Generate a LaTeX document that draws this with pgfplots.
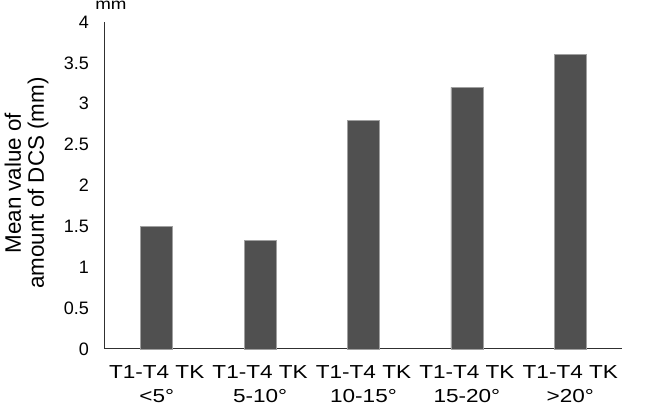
\documentclass[border=0pt]{standalone}
\usepackage{fontspec}
\setmainfont{Liberation Sans}
\newfontfamily\widefont[FakeStretch=1.2]{Liberation Sans}
\usepackage{pgfplots}
\pgfplotsset{compat=1.18}
\definecolor{barFill}{HTML}{505050}
\definecolor{barEdge}{HTML}{A0A0A0}
\definecolor{axisInk}{HTML}{303030}
\begin{document}
\begin{tikzpicture}
\path[use as bounding box] (-52.5pt,-28pt) rectangle (279pt,174.5pt);
\begin{axis}[
  scale only axis, width=258.5pt, height=163.5pt,
  clip=false,
  ybar, bar width=16pt,
  xmin=-0.5, xmax=4.5, ymin=0, ymax=4,
  ytick={0,0.5,...,4},
  xtick=data,
  xticklabels={{T1-T4 TK\\<5°},{T1-T4 TK\\5-10°},{T1-T4 TK\\10-15°},{T1-T4 TK\\15-20°},{T1-T4 TK\\>20°}},
  axis x line*=bottom, axis y line*=left,
  axis line style={axisInk, line width=0.5pt, -},
  tick style={draw=none},
  /pgf/number format/assume math mode=true,
  yticklabel style={font=\fontsize{9}{10}\selectfont, xshift=-4.5pt},
  xticklabel style={align=center, font=\widefont\fontsize{9.4}{12}\selectfont, yshift=-0.3pt},
  ylabel={Mean value of\\amount of DCS (mm)},
  ylabel style={align=center, font=\fontsize{11.2}{11.6}\selectfont,
    at={([xshift=-39.2pt,yshift=1.2pt]axis description cs:0,0.5)}, anchor=center},
]
\addplot[fill=barFill, draw=barEdge, line width=0.3pt] coordinates
  {(0,1.5) (1,1.33) (2,2.8) (3,3.2) (4,3.6)};
\node[anchor=base, font=\widefont\fontsize{7.8}{9}\selectfont, inner sep=0pt] at ([xshift=3pt,yshift=6.3pt]rel axis cs:0,1) {mm};
\end{axis}
\end{tikzpicture}
\end{document}
